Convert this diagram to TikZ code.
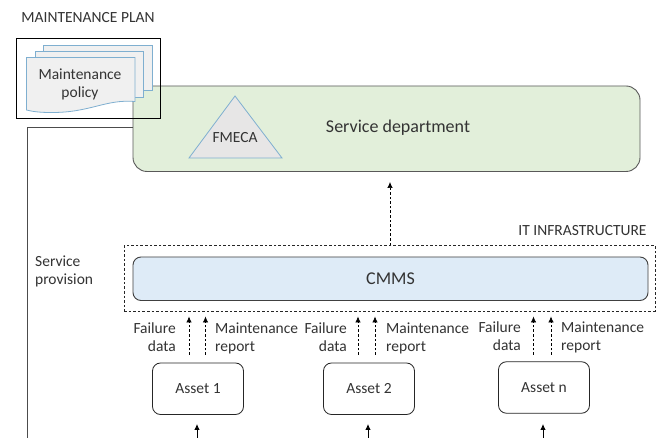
\documentclass[tikz,border=0pt]{standalone}
\usepackage{fontspec}
\setmainfont{Carlito}
\usetikzlibrary{arrows.meta}
\definecolor{txtgray}{HTML}{333333}
\definecolor{deptgreen}{HTML}{E2EFDA}
\definecolor{cmmsblue}{HTML}{DEEBF7}
\definecolor{docblue}{HTML}{7FAFD0}
\definecolor{docfill}{HTML}{F0F0F0}
\definecolor{trifill}{HTML}{E7E6E6}
\tikzset{
    lbl/.style={text=txtgray, font=\fontsize{15.5}{18}\selectfont, align=center, inner sep=0pt},
    biglbl/.style={lbl, font=\fontsize{18}{20}\selectfont},
    lblleft/.style={lbl, align=right, anchor=east},
    lblright/.style={lbl, align=left, anchor=west},
    asset/.style={draw=black!85, rounded corners=8pt, minimum width=91pt, minimum height=51.5pt, line width=0.8pt, lbl},
    bar/.style={draw=black!75, line width=0.9pt, biglbl},
    dasharrow/.style={line width=0.7pt, dash pattern=on 2.6pt off 2pt, -{Latex[length=6pt,width=5.5pt]}},
    solidarrow/.style={line width=0.8pt, -{Latex[length=6pt,width=5.5pt]}},
    sheet/.style={draw=docblue, fill=docfill, line width=0.8pt}
}
\begin{document}
\begin{tikzpicture}[x=1pt,y=-1pt]
    \useasboundingbox (0,0) rectangle (657,438);
    \fill[white] (0,0) rectangle (657,438);
    % service department
    \node (dept) [bar, draw=black!65, fill=deptgreen, rounded corners=14pt, minimum width=507pt, minimum height=85.5pt] at (386.5,128.75) {};
    \node (deptlabel) [biglbl] at (398,128) {Service department};
    \draw[docblue, fill=trifill, line width=0.8pt] (235,96) -- (282,158) -- (189,158) -- cycle;
    \node (fmeca) [lbl] at (235,138) {FMECA};
    % policy sheets
    \draw[sheet] (43,45.5) -- (152.5,45.5) -- (152.5,90) -- (43,90) -- cycle;
    \draw[sheet] (35,51.5) -- (143,51.5) -- (143,97) -- (35,97) -- cycle;
    \draw[sheet] (26.5,57.5) -- (135,57.5) -- (135,101.5) .. controls (105,99) and (90,113) .. (50,112.5) .. controls (40,112.5) and (32,111.5) .. (26.5,110) -- cycle;
    \node (policy) [lbl] at (80,84) {Maintenance\\policy};
    \node (plan) [draw=black, line width=0.8pt, minimum width=144pt, minimum height=80pt, inner sep=0pt] at (88.5,78) {};
    \node (plantitle) [lbl] at (88,18) {MAINTENANCE PLAN};
    % service provision line
    \coordinate (linestart) at (133,127.5);
    \coordinate (linecorner) at (27,127.5);
    \coordinate (lineend) at (27,438);
    \draw[black!70, line width=0.9pt] (linestart) -- (linecorner) -- (lineend);
    \node (provision) [lbl, align=left, anchor=west] at (35,271) {Service\\provision};
    % it infrastructure
    \node (infra) [draw=black!85, dash pattern=on 2.6pt off 2pt, line width=0.7pt, minimum width=531pt, minimum height=65.5pt, inner sep=0pt] at (389.5,278.25) {};
    \node (infralabel) [lbl] at (582.5,231) {IT INFRASTRUCTURE};
    \node (cmms) [bar, fill=cmmsblue, rounded corners=8pt, minimum width=515pt, minimum height=43.5pt] at (390.5,278.75) {CMMS};
    \coordinate (deptin) at (390,182);
    \draw[dasharrow] (infra.north) ++(0.5,0) -- (deptin);
    % assets
    \node (asset1) [asset] at (198,388.75) {Asset 1};
    \node (asset2) [asset] at (369,388.75) {Asset 2};
    \node (assetn) [asset] at (544,387.5) {Asset n};
    \foreach \nm/\fx/\rx/\fl/\rl/\ny in {asset1/189/205.5/176/215/337, asset2/358/375/347/386/337, assetn/533.5/551/521/561/336}{
        \coordinate (\nm f) at (\fx,355);
        \coordinate (\nm r) at (\rx,355);
        \coordinate (\nm ft) at (\fx,316.5);
        \coordinate (\nm rt) at (\rx,316.5);
        \draw[dasharrow] (\nm f) -- (\nm ft);
        \draw[dasharrow] (\nm r) -- (\nm rt);
        \node (\nm fail) [lblleft] at (\fl,\ny) {Failure\\data};
        \node (\nm maint) [lblright] at (\rl,\ny+1) {Maintenance\\report};
    }
    % inputs from below
    \foreach \nm/\ix in {asset1/197, asset2/368, assetn/543}{
        \coordinate (\nm src) at (\ix,438);
        \coordinate (\nm tip) at (\ix,424);
        \draw[solidarrow] (\nm src) -- (\nm tip);
    }
\end{tikzpicture}
\end{document}
